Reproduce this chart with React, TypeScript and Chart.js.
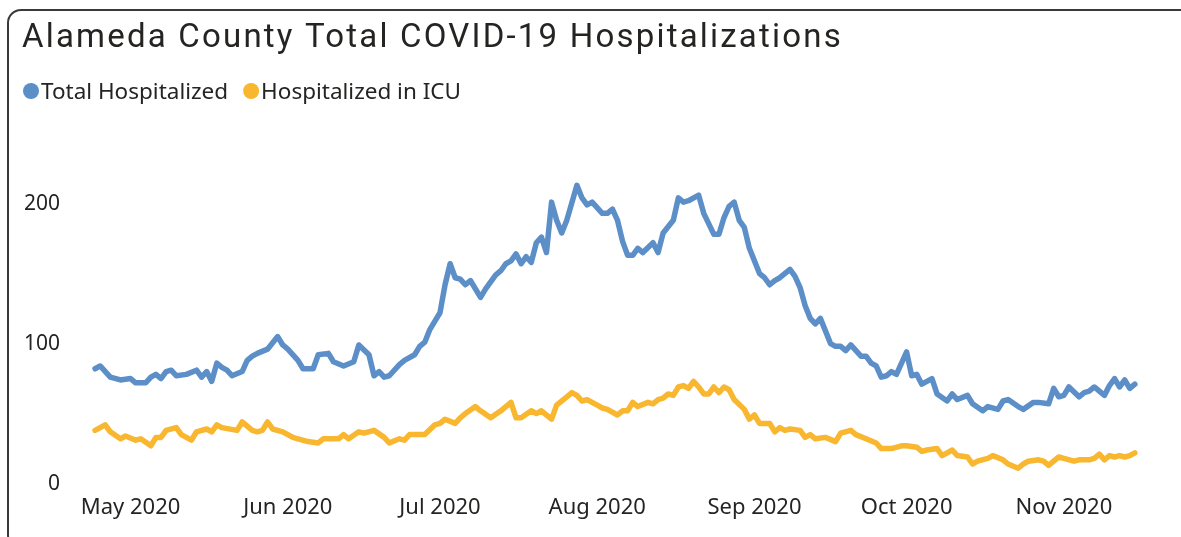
import React, { useEffect, useRef } from "react";
import { Chart, registerables } from "chart.js";

Chart.register(...registerables);

// x values are days since 2020-05-01
const monthTickDays = [0, 31, 61, 92, 123, 153, 184];
const monthTickLabels = ["May 2020", "Jun 2020", "Jul 2020", "Aug 2020", "Sep 2020", "Oct 2020", "Nov 2020"];
const yTickValues = [0, 100, 200];
const chartTitle = "Alameda County Total COVID-19 Hospitalizations";

const totalDays = [-7, -6, -4, -2, 0, 1, 3, 4, 5, 6, 7, 8, 9, 11, 13, 14, 15, 16, 17, 18, 19, 20, 22, 23, 24, 25, 27, 29, 30, 31, 33, 34, 36, 37, 39, 40, 42, 44, 45, 47, 48, 49, 50, 51, 53, 54, 56, 57, 58, 59, 60, 61, 62, 63, 64, 65, 66, 67, 69, 70, 72, 73, 74, 75, 76, 77, 78, 79, 80, 81, 82, 83, 84, 85, 86, 88, 89, 90, 91, 93, 94, 95, 96, 97, 98, 99, 100, 101, 103, 104, 105, 107, 108, 109, 110, 112, 113, 115, 116, 117, 118, 119, 120, 121, 122, 124, 125, 126, 127, 128, 130, 131, 132, 133, 134, 135, 136, 138, 139, 140, 141, 142, 144, 145, 146, 147, 148, 149, 150, 151, 153, 154, 155, 156, 158, 159, 161, 162, 163, 165, 166, 168, 169, 171, 172, 173, 175, 176, 178, 179, 181, 182, 183, 184, 185, 187, 188, 189, 190, 192, 193, 194, 195, 196, 197, 198];
const totalValues = [82, 84, 76, 74, 75, 72, 72, 76, 78, 75, 80, 81, 77, 78, 81, 76, 80, 73, 86, 83, 81, 77, 80, 88, 91, 93, 96, 105, 99, 96, 88, 82, 82, 92, 93, 87, 84, 87, 99, 92, 77, 80, 76, 77, 85, 88, 92, 98, 101, 110, 116, 122, 142, 157, 147, 146, 142, 145, 133, 139, 149, 152, 157, 159, 164, 157, 162, 158, 172, 176, 165, 201, 188, 179, 188, 213, 204, 199, 201, 193, 193, 196, 188, 173, 163, 163, 168, 165, 172, 165, 179, 188, 204, 201, 202, 206, 193, 178, 178, 190, 198, 201, 188, 183, 168, 150, 147, 142, 145, 147, 153, 148, 140, 127, 118, 114, 118, 100, 98, 98, 95, 99, 91, 91, 86, 84, 76, 77, 80, 78, 94, 77, 78, 71, 75, 64, 59, 64, 60, 63, 57, 52, 55, 53, 59, 60, 55, 53, 58, 58, 57, 68, 62, 63, 69, 62, 65, 66, 69, 63, 70, 75, 69, 74, 68, 71];

const icuDays = [-7, -5, -4, -2, -1, 1, 2, 4, 5, 6, 7, 9, 10, 12, 13, 15, 16, 17, 18, 21, 22, 24, 25, 26, 27, 28, 30, 32, 33, 35, 37, 38, 41, 42, 43, 45, 46, 48, 50, 51, 53, 54, 55, 57, 58, 60, 61, 62, 64, 65, 66, 68, 69, 71, 73, 75, 76, 77, 79, 80, 81, 83, 84, 86, 87, 88, 89, 90, 92, 93, 94, 96, 97, 98, 99, 100, 102, 103, 104, 105, 106, 107, 108, 109, 110, 111, 112, 113, 114, 115, 116, 117, 118, 119, 121, 122, 123, 124, 126, 127, 128, 129, 130, 132, 133, 134, 135, 137, 139, 140, 142, 143, 145, 147, 148, 150, 152, 153, 155, 156, 157, 159, 160, 161, 162, 163, 165, 166, 167, 169, 170, 172, 173, 175, 176, 177, 179, 180, 181, 183, 184, 186, 187, 189, 190, 191, 192, 193, 194, 195, 196, 197, 198];
const icuValues = [38, 42, 37, 32, 34, 31, 32, 27, 33, 33, 38, 40, 35, 31, 37, 39, 37, 42, 40, 38, 44, 38, 37, 38, 44, 39, 37, 33, 32, 30, 29, 32, 32, 35, 32, 37, 36, 38, 33, 29, 32, 31, 35, 35, 35, 42, 43, 46, 43, 47, 50, 55, 52, 47, 52, 58, 47, 47, 52, 50, 52, 46, 56, 62, 65, 63, 59, 60, 56, 54, 53, 49, 52, 52, 58, 55, 58, 57, 60, 61, 64, 63, 69, 70, 68, 73, 69, 64, 64, 69, 65, 69, 67, 60, 53, 46, 49, 43, 43, 37, 40, 38, 39, 38, 33, 35, 32, 33, 30, 36, 38, 35, 32, 29, 25, 25, 27, 27, 26, 23, 24, 25, 20, 22, 24, 20, 19, 14, 16, 18, 20, 17, 14, 11, 14, 16, 17, 16, 13, 19, 18, 16, 17, 17, 18, 21, 17, 20, 19, 20, 19, 20, 22];

const BLUE = "#5c8ec8";
const YELLOW = "#f9b62f";
const TEXT = "#252423";
const TICK_FONT = "'Noto Sans', 'Open Sans', sans-serif";

const titlePlugin = {
  id: "spacedTitle",
  afterDraw(chart: any) {
    const ctx = chart.ctx as CanvasRenderingContext2D;
    ctx.save();
    ctx.font = "33px Roboto";
    ctx.fillStyle = TEXT;
    ctx.textAlign = "left";
    ctx.textBaseline = "alphabetic";
    (ctx as any).letterSpacing = "2.2px";
    ctx.fillText(chartTitle, 22, 47);
    ctx.restore();
  },
};

// Legend drawn from the chart's own datasets (label + colour)
const legendPlugin = {
  id: "pbiLegend",
  afterDraw(chart: any) {
    const ctx = chart.ctx as CanvasRenderingContext2D;
    ctx.save();
    ctx.font = `22.5px ${TICK_FONT}`;
    ctx.textAlign = "left";
    ctx.textBaseline = "alphabetic";
    const cy = 91;
    let cx = 31;
    chart.data.datasets.forEach((ds: any) => {
      ctx.beginPath();
      ctx.arc(cx, cy, 8, 0, Math.PI * 2);
      ctx.fillStyle = ds.borderColor;
      ctx.fill();
      ctx.fillStyle = TEXT;
      const tx = cx + 10;
      ctx.fillText(ds.label, tx, cy + 8);
      cx = tx + ctx.measureText(ds.label).width + 23;
    });
    ctx.restore();
  },
};

export default function App() {
  const canvasRef = useRef<HTMLCanvasElement | null>(null);

  useEffect(() => {
    const canvas = canvasRef.current;
    if (!canvas) return;
    const chart = new Chart(canvas, {
      type: "line",
      data: {
        datasets: [
          {
            label: "Total Hospitalized",
            data: totalDays.map((d, i) => ({ x: d, y: totalValues[i] })),
            borderColor: BLUE,
            backgroundColor: BLUE,
            borderWidth: 5.5,
            pointRadius: 0,
            tension: 0,
            borderJoinStyle: "round",
            borderCapStyle: "round",
          },
          {
            label: "Hospitalized in ICU",
            data: icuDays.map((d, i) => ({ x: d, y: icuValues[i] })),
            borderColor: YELLOW,
            backgroundColor: YELLOW,
            borderWidth: 5.5,
            pointRadius: 0,
            tension: 0,
            borderJoinStyle: "round",
            borderCapStyle: "round",
          },
        ],
      },
      options: {
        animation: false,
        responsive: false,
        maintainAspectRatio: false,
        layout: { padding: { left: 22, right: 36, top: 133.5, bottom: 5 } },
        plugins: {
          title: { display: false },
          legend: { display: false },
          tooltip: { enabled: false },
        },
        scales: {
          x: {
            type: "linear",
            min: -8,
            max: 200,
            grid: { display: false, drawTicks: false },
            border: { display: false },
            afterBuildTicks: (s: any) => {
              s.ticks = monthTickDays.map((v) => ({ value: v }));
            },
            ticks: {
              autoSkip: false,
              maxRotation: 0,
              padding: 11,
              color: TEXT,
              font: { family: TICK_FONT, size: 22 },
              callback: (v: any) => {
                const i = monthTickDays.indexOf(Number(v));
                return i >= 0 ? monthTickLabels[i] : "";
              },
            },
          },
          y: {
            min: 0,
            max: 250,
            grid: { display: false, drawTicks: false },
            border: { display: false },
            afterBuildTicks: (s: any) => {
              s.ticks = yTickValues.map((v) => ({ value: v }));
            },
            afterFit: (s: any) => {
              s.width = 68;
            },
            ticks: {
              padding: 30,
              color: TEXT,
              font: { family: TICK_FONT, size: 21 },
            },
          },
        },
      },
      plugins: [titlePlugin, legendPlugin],
    });
    return () => chart.destroy();
  }, []);

  return (
    <div style={{ position: "fixed", left: 0, top: 0, width: 1181, height: 537, background: "#fff", overflow: "hidden" }}>
      <div
        style={{
          position: "absolute",
          left: 7,
          top: 9,
          width: 1220,
          height: 540,
          border: "2px solid #3a3a3a",
          borderRadius: 14,
          boxSizing: "border-box",
        }}
      />
      <canvas ref={canvasRef} width={1181} height={537} style={{ position: "absolute", left: 0, top: 0, display: "block" }} />
    </div>
  );
}
